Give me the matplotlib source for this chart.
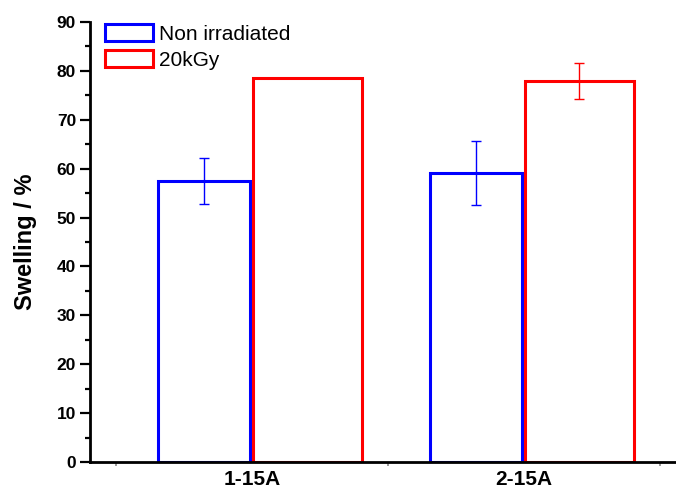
import matplotlib
matplotlib.use('Agg')
import matplotlib.pyplot as plt
from matplotlib.ticker import MultipleLocator, FixedLocator

plt.rcParams['font.family'] = ['Liberation Sans', 'DejaVu Sans']

# datos
muestras = ['1-15A', '2-15A']
no_irradiado = [57.5, 59.1]
no_irradiado_err = [4.65, 6.6]
irradiado = [78.5, 78.0]
irradiado_err = [0, 3.7]

pos = [1, 2]

fig = plt.figure(figsize=(6.76, 4.91), dpi=100)
ax = fig.add_axes([90/676, 1 - 462/491, 586/676, 440/491])

# barras azules (no irradiado), alineadas por el borde derecho
ax.bar([p - 0.008 for p in pos], no_irradiado, width=-0.337, align='edge',
       facecolor='white', edgecolor='#0000FF', linewidth=2.2,
       label='Non irradiated', zorder=2)
ax.bar([p + 0.004 for p in pos], irradiado, width=0.400, align='edge',
       facecolor='white', edgecolor='#FF0000', linewidth=2.2,
       label='20kGy', zorder=2)

# barras de error
ax.errorbar([p - 0.177 for p in pos], no_irradiado, yerr=no_irradiado_err,
            fmt='none', ecolor='#0000FF', elinewidth=1, capsize=3.8,
            capthick=1, zorder=3)
ax.errorbar([pos[1] + 0.204], [irradiado[1]], yerr=[irradiado_err[1]],
            fmt='none', ecolor='#FF0000', elinewidth=1, capsize=3.8,
            capthick=1, zorder=3)

ax.set_xlim(0.404, 2.559)
ax.set_ylim(0, 90)

ax.spines['top'].set_visible(False)
ax.spines['right'].set_visible(False)
ax.spines['left'].set_linewidth(2)
ax.spines['bottom'].set_linewidth(2)

ax.set_xticks(pos)
ax.set_xticklabels(muestras, fontsize=15, fontweight='bold')
ax.xaxis.set_minor_locator(FixedLocator([0.5, 1.5, 2.5]))
ax.tick_params(axis='x', which='major', length=0, pad=5.5)
ax.tick_params(axis='x', which='minor', length=3, width=1.2, color='#888888')

ax.yaxis.set_major_locator(MultipleLocator(10))
ax.yaxis.set_minor_locator(MultipleLocator(5))
ax.tick_params(axis='y', which='major', length=7, width=1.6, pad=3,
               labelsize=12.5)
ax.tick_params(axis='y', which='minor', length=3.6, width=1.6)
for lab in ax.get_yticklabels():
    lab.set_fontweight('bold')

ax.set_ylabel('Swelling / %', fontsize=17, fontweight='bold', labelpad=14)

ax.legend(loc='upper left', bbox_to_anchor=(15/586, 1 - 2/440),
          frameon=False, fontsize=15, handlelength=2.3, handleheight=0.9,
          handletextpad=0.3, labelspacing=0.3, borderpad=0,
          borderaxespad=0)

fig.savefig('out.png', dpi=100)
